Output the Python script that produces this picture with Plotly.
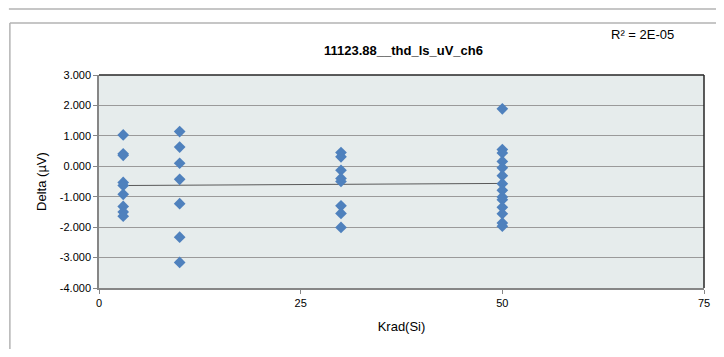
import numpy as np
import plotly.graph_objects as go

# ─────────────────────────────────────────────
# DATOS
# ─────────────────────────────────────────────
KRAD = [3] * 9 + [10] * 7 + [30] * 8 + [50] * 14
DELTA = [
    # 3 krad
    1.03, 0.41, 0.36, -0.53, -0.63, -0.92, -1.32, -1.50, -1.64,
    # 10 krad
    1.14, 0.63, 0.10, -0.43, -1.23, -2.33, -3.16,
    # 30 krad
    0.45, 0.31, -0.13, -0.40, -0.50, -1.30, -1.55, -2.01,
    # 50 krad
    1.89, 0.55, 0.44, 0.16, -0.05, -0.31, -0.57, -0.79, -1.01, -1.10,
    -1.35, -1.56, -1.86, -1.97,
]
X_TICKS = [0, 25, 50, 75]
Y_TICKS = [3, 2, 1, 0, -1, -2, -3, -4]

TITLE = "<b>11123.88__thd_ls_uV_ch6</b>"
R2_TEXT = "R² = 2E-05"
FONT = "Liberation Sans Narrow, Liberation Sans, Arial"

# línea de tendencia lineal (como Excel)
slope, intercept = np.polyfit(KRAD, DELTA, 1)
trend_x = [min(KRAD), max(KRAD)]
trend_y = [slope * v + intercept for v in trend_x]

fig = go.Figure()
fig.add_trace(go.Scatter(
    x=trend_x, y=trend_y, mode="lines",
    line=dict(color="#595959", width=1),
    hoverinfo="skip", showlegend=False,
))
fig.add_trace(go.Scatter(
    x=KRAD, y=DELTA, mode="markers",
    marker=dict(symbol="diamond", size=9, color="#4F81BD"),
    showlegend=False,
))

# la página tiene un margen de 8 px en el body: compensar
# (el área visible de la figura es 708 x 341)
OFF = 8
W, H = 724 - 2 * OFF, 357 - 2 * OFF
PL, PR, PT, PB = 99 - OFF, 710 - OFF, 75 - OFF, 288 - OFF


def px_x(p):
    return (p - OFF - PL) / (PR - PL)


def px_y(p):
    return (PB - (p - OFF)) / (PB - PT)


BORDER = dict(color="#b3b3b3", width=1.5)
shapes = [
    # marco del gráfico
    dict(type="line", xref="paper", yref="paper",
         x0=px_x(9), x1=px_x(730), y0=px_y(23), y1=px_y(23), line=BORDER),
    dict(type="line", xref="paper", yref="paper",
         x0=px_x(9), x1=px_x(9), y0=px_y(23), y1=px_y(360), line=BORDER),
    # borde del gráfico anterior
    dict(type="line", xref="paper", yref="paper",
         x0=px_x(8), x1=px_x(730), y0=px_y(9), y1=px_y(9), line=BORDER),
    # borde superior y derecho del área de trazado
    dict(type="line", xref="paper", yref="paper",
         x0=0, x1=1, y0=1, y1=1, line=dict(color="#262626", width=1.5)),
    dict(type="line", xref="paper", yref="paper",
         x0=1, x1=1, y0=0, y1=1, line=dict(color="#262626", width=1.5)),
]

fig.update_layout(
    width=W, height=H,
    margin=dict(l=PL, r=W - PR, t=PT, b=H - PB),
    paper_bgcolor="white",
    plot_bgcolor="#e6ecec",
    font=dict(family=FONT, size=11, color="#000000"),
    showlegend=False,
    shapes=shapes,
    xaxis=dict(
        range=[0, 75], tickvals=X_TICKS, ticktext=[str(v) for v in X_TICKS],
        showgrid=False, zeroline=False,
        showline=True, linecolor="#868686", linewidth=1.5,
        ticks="outside", ticklen=4, tickcolor="#868686",
        tickfont=dict(size=11), ticklabeloverflow="allow",
        title=dict(text="Krad(Si)", font=dict(size=13), standoff=14),
    ),
    yaxis=dict(
        range=[-4, 3], tickvals=Y_TICKS,
        ticktext=[f"{v:.3f}" for v in Y_TICKS],
        showgrid=True, gridcolor="#9a9a9a", gridwidth=1,
        zeroline=False,
        showline=True, linecolor="#868686", linewidth=1.5,
        ticks="outside", ticklen=4, tickcolor="#868686",
        tickfont=dict(size=11),
        title=dict(text="Delta (µV)", font=dict(size=13), standoff=10),
    ),
    annotations=[
        dict(text=TITLE, xref="paper", yref="paper",
             x=px_x(407), y=px_y(50), xanchor="center", yanchor="middle",
             showarrow=False, font=dict(size=13)),
        dict(text=R2_TEXT, xref="paper", yref="paper",
             x=px_x(648), y=px_y(35), xanchor="center", yanchor="middle",
             showarrow=False, font=dict(size=13)),
    ],
)

fig.write_html("out.html")
